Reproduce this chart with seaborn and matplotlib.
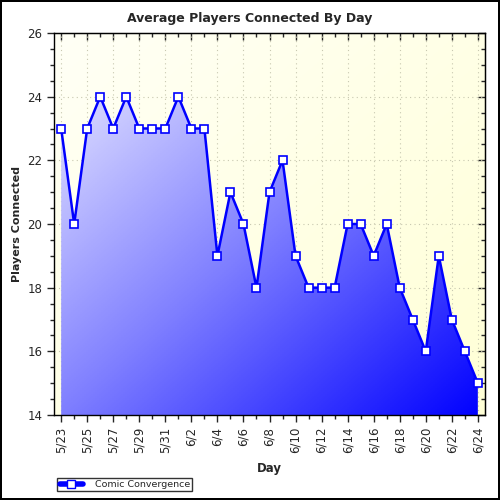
import numpy as np
import pandas as pd
import matplotlib
matplotlib.use("Agg")
import matplotlib.pyplot as plt
from matplotlib.colors import LinearSegmentedColormap
from matplotlib.lines import Line2D
from matplotlib.ticker import MultipleLocator, FixedLocator, NullFormatter
import seaborn as sns

days = ["5/23", "5/24", "5/25", "5/26", "5/27", "5/28", "5/29", "5/30", "5/31",
        "6/1", "6/2", "6/3", "6/4", "6/5", "6/6", "6/7", "6/8", "6/9", "6/10",
        "6/11", "6/12", "6/13", "6/14", "6/15", "6/16", "6/17", "6/18", "6/19",
        "6/20", "6/21", "6/22", "6/23", "6/24"]
players = [23, 20, 23, 24, 23, 24, 23, 23, 23, 24, 23, 23, 19, 21, 20, 18, 21, 22,
           19, 18, 18, 18, 20, 20, 19, 20, 18, 17, 16, 19, 17, 16, 15]
series_name = "Comic Convergence"

df = pd.DataFrame({"idx": np.arange(len(days)), "day": days, "players": players})

sns.set_style("white")
plt.rcParams['font.family'] = ['DejaVu Sans']

fig = plt.figure(figsize=(5, 5), dpi=100)
fig.patch.set_facecolor("white")
fig.patch.set_edgecolor("black")
fig.patch.set_linewidth(1.5)

ax = fig.add_axes([0.108, 0.17, 0.862, 0.764])
xmin, xmax = -0.55, len(days) - 1 + 0.55
ymin, ymax = 14, 26

# background gradient (pale yellow)
gx, gy = np.meshgrid(np.linspace(0, 1, 200), np.linspace(0, 1, 200))
bg = (gx + gy) / 2
bg_cmap = LinearSegmentedColormap.from_list("bg", ["#fffff6", "#ffffd6"])
ax.imshow(bg, extent=[xmin, xmax, ymin, ymax], origin="upper", aspect="auto",
          cmap=bg_cmap, zorder=0)

# grid
for gxv in range(0, len(days), 2):
    ax.axvline(gxv, color="#c8c8b0", lw=0.8, ls=(0, (1, 3)), zorder=1)
for gyv in range(16, 26, 2):
    ax.axhline(gyv, color="#c8c8b0", lw=0.8, ls=(0, (1, 3)), zorder=1)

# gradient fill under the line
poly = ax.fill_between(df["idx"], df["players"], ymin, color="none", lw=0, zorder=2)
fill_cmap = LinearSegmentedColormap.from_list("fill", ["#f2f2ff", "#8080ff", "#0000ff"])
grad = (gx + (1 - gy)) / 2
im = ax.imshow(grad, extent=[xmin, xmax, ymin, ymax], origin="lower", aspect="auto",
               cmap=fill_cmap, zorder=2)
path = poly.get_paths()[0]
im.set_clip_path(path, transform=ax.transData)

sns.lineplot(data=df, x="idx", y="players", ax=ax, color="#0000ff", lw=1.8,
             marker="s", markersize=6, markerfacecolor="white",
             markeredgecolor="#0000ff", markeredgewidth=1.2, zorder=3, legend=False)

ax.set_xlim(xmin, xmax)
ax.set_ylim(ymin, ymax)

major_x = list(range(0, len(days), 2))
minor_x = list(range(len(days)))
ax.xaxis.set_major_locator(FixedLocator(major_x))
ax.set_xticklabels(days[::2], rotation=90, fontsize=8.5)
ax.xaxis.set_minor_locator(FixedLocator(minor_x))
ax.yaxis.set_major_locator(MultipleLocator(2))
ax.yaxis.set_minor_locator(MultipleLocator(0.5))
ax.tick_params(axis="both", which="major", length=5, width=1, direction="out",
               left=True, bottom=True, right=False, top=False)
ax.tick_params(axis="both", which="minor", length=3, width=1, direction="out",
               left=True, bottom=True, right=False, top=False)
ax.tick_params(axis="y", which="major", labelsize=8.5)

# inward ticks on right and top
sec_y = ax.secondary_yaxis("right")
sec_y.yaxis.set_major_locator(MultipleLocator(2))
sec_y.yaxis.set_minor_locator(MultipleLocator(0.5))
sec_y.yaxis.set_major_formatter(NullFormatter())
sec_y.tick_params(which="major", direction="in", length=5, width=1)
sec_y.tick_params(which="minor", direction="in", length=3, width=1)
sec_x = ax.secondary_xaxis("top")
sec_x.xaxis.set_major_locator(FixedLocator(major_x))
sec_x.xaxis.set_minor_locator(FixedLocator(minor_x))
sec_x.xaxis.set_major_formatter(NullFormatter())
sec_x.tick_params(which="major", direction="in", length=5, width=1)
sec_x.tick_params(which="minor", direction="in", length=3, width=1)

for s in ax.spines.values():
    s.set_color("black")
    s.set_linewidth(1)

ax.set_xlabel("Day", fontsize=8.5, fontweight="bold", labelpad=6)
ax.set_ylabel("Players Connected", fontsize=8, fontweight="bold")
ax.yaxis.set_label_coords(-0.075, 0.5)
fig.text(0.5, 0.963, "Average Players Connected By Day", ha="center", va="center",
         fontsize=9, fontweight="bold")

handle = Line2D([0], [0], color="#0000ff", lw=4, marker="s", markersize=6,
                markerfacecolor="white", markeredgecolor="#0000ff")
leg = fig.legend([handle], [series_name], loc="lower left",
                 bbox_to_anchor=(0.105, 0.008), fontsize=6.8, frameon=True,
                 fancybox=False, edgecolor="black", handlelength=2.5,
                 borderpad=0.25, handletextpad=1.2)
leg.get_frame().set_linewidth(1)

fig.savefig("out.png", dpi=100)
